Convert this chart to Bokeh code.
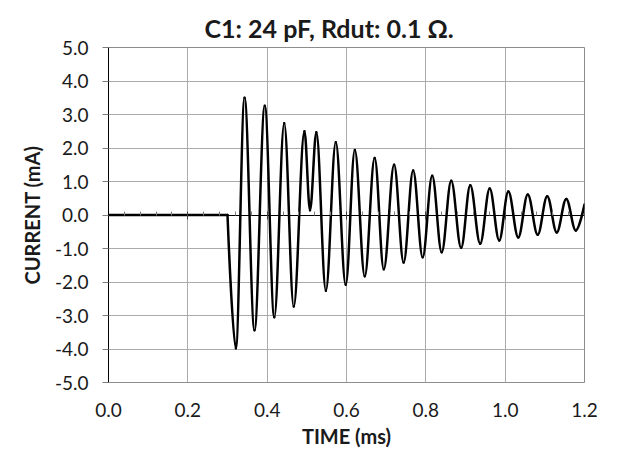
from bokeh.plotting import figure
from bokeh.models import (Range1d, LinearAxis, FixedTicker, ColumnDataSource, Title)
from bokeh.embed import file_html
from bokeh.resources import INLINE

# ---- data ----
title_text = "C1: 24 pF, Rdut: 0.1 \u03a9."
x_label = "TIME (ms)"
y_label = "CURRENT (mA)"

x_ticks = [0.0, 0.2, 0.4, 0.6, 0.8, 1.0, 1.2]
x_tick_labels = ["0.0", "0.2", "0.4", "0.6", "0.8", "1.0", "1.2"]
x_minor = [0.04, 0.08, 0.12, 0.16, 0.24, 0.28, 0.32, 0.36, 0.44, 0.48, 0.52, 0.56,
           0.64, 0.68, 0.72, 0.76, 0.84, 0.88, 0.92, 0.96, 1.04, 1.08, 1.12, 1.16]
y_ticks = [-5.0, -4.0, -3.0, -2.0, -1.0, 0.0, 1.0, 2.0, 3.0, 4.0, 5.0]
y_tick_labels = ["-5.0", "-4.0", "-3.0", "-2.0", "-1.0", "0.0", "1.0", "2.0", "3.0", "4.0", "5.0"]

# baseline before the event (ms, mA)
t_flat = [0.0, 0.30]
i_flat = [0.0, 0.0]

# turning points of the ringing (ms, mA), plus start and end of the trace
t_turn = [0.30, 0.321, 0.343, 0.368, 0.394, 0.418, 0.443, 0.467, 0.494, 0.508,
          0.524, 0.548, 0.573, 0.598, 0.621, 0.646, 0.671, 0.694, 0.720, 0.744,
          0.768, 0.792, 0.816, 0.840, 0.864, 0.889, 0.912, 0.937, 0.961, 0.985,
          1.008, 1.033, 1.057, 1.082, 1.106, 1.130, 1.154, 1.178, 1.200]
i_turn = [0.0, -3.98, 3.50, -3.44, 3.26, -3.05, 2.74, -2.73, 2.50, 0.14,
          2.47, -2.26, 2.17, -2.08, 1.94, -1.83, 1.70, -1.62, 1.50, -1.42,
          1.33, -1.26, 1.17, -1.11, 1.02, -0.98, 0.89, -0.86, 0.79, -0.76,
          0.70, -0.67, 0.61, -0.59, 0.56, -0.52, 0.48, -0.46, 0.31]

FONT = "Lato"
GRID = "#ababab"
TXT = "#1a1a1a"

p = figure(width=632, height=461, output_backend="svg", toolbar_location=None,
           x_range=Range1d(x_ticks[0], x_ticks[-1]), y_range=Range1d(y_ticks[0], y_ticks[-1]),
           x_axis_location=None, y_axis_location=None,
           min_border_left=108, min_border_right=48, min_border_top=47, min_border_bottom=79)
p.background_fill_color = "white"
p.border_fill_color = "white"
p.outline_line_color = "#8c8c8c"
p.outline_line_width = 1

p.title = Title(text=title_text, align="left", offset=96,
                text_font=FONT, text_font_size="25px", text_font_style="bold",
                text_color=TXT)

# left axis
yax = LinearAxis(ticker=FixedTicker(ticks=y_ticks),
                 major_label_overrides=dict(zip(y_ticks, y_tick_labels)),
                 axis_label=y_label)
yax.axis_line_color = "black"
yax.major_tick_out = 6
yax.major_tick_in = 0
yax.major_tick_line_color = "#7f7f7f"
yax.minor_tick_line_color = None
yax.major_label_standoff = 14
yax.major_label_text_font = FONT
yax.major_label_text_font_size = "19px"
yax.major_label_text_color = TXT
yax.axis_label_text_font = FONT
yax.axis_label_text_font_size = "20px"
yax.axis_label_text_font_style = "bold"
yax.axis_label_text_color = TXT
yax.axis_label_standoff = 8
p.add_layout(yax, "left")

# bottom labels (no line)
xax = LinearAxis(ticker=FixedTicker(ticks=x_ticks),
                 major_label_overrides=dict(zip(x_ticks, x_tick_labels)),
                 axis_label=x_label)
xax.axis_line_color = None
xax.major_tick_line_color = None
xax.minor_tick_line_color = None
xax.major_tick_out = 0
xax.major_tick_in = 0
xax.major_label_standoff = 20
xax.major_label_text_font = FONT
xax.major_label_text_font_size = "19px"
xax.major_label_text_color = TXT
xax.axis_label_text_font = FONT
xax.axis_label_text_font_size = "20px"
xax.axis_label_text_font_style = "bold"
xax.axis_label_text_color = TXT
xax.axis_label_standoff = 4
p.add_layout(xax, "below")

# horizontal axis line crossing at zero
zax = LinearAxis(ticker=FixedTicker(ticks=x_ticks, minor_ticks=x_minor),
                 fixed_location=0)
zax.axis_line_color = "black"
zax.axis_line_width = 1
zax.major_tick_in = 4
zax.major_tick_out = 4
zax.major_tick_line_color = "#404040"
zax.minor_tick_in = 4
zax.minor_tick_out = 0
zax.minor_tick_line_color = "#7f7f7f"
zax.major_label_text_font_size = "0px"
zax.major_label_text_alpha = 0
p.add_layout(zax, "below")

p.xgrid.ticker = FixedTicker(ticks=x_ticks)
p.ygrid.ticker = FixedTicker(ticks=y_ticks)
for g in (p.xgrid, p.ygrid):
    g.grid_line_color = GRID
    g.grid_line_width = 1

# trace
p.line(t_flat, i_flat, line_color="black", line_width=2.5, line_cap="round")

k = 0.36
x0, y0, x1, y1, cx0, cy0, cx1, cy1 = [], [], [], [], [], [], [], []
n = len(t_turn)
for j in range(n - 1):
    a, b = t_turn[j], t_turn[j + 1]
    ya, yb = i_turn[j], i_turn[j + 1]
    d = b - a
    x0.append(a); y0.append(ya); x1.append(b); y1.append(yb)
    # flat tangent at turning points, none at trace start/end
    if j == 0:
        cx0.append(a); cy0.append(ya)
    else:
        cx0.append(a + k * d); cy0.append(ya)
    if j + 1 == n - 1:
        cx1.append(b); cy1.append(yb)
    else:
        cx1.append(b - k * d); cy1.append(yb)

src = ColumnDataSource(dict(x0=x0, y0=y0, x1=x1, y1=y1, cx0=cx0, cy0=cy0, cx1=cx1, cy1=cy1))
p.bezier(x0="x0", y0="y0", x1="x1", y1="y1", cx0="cx0", cy0="cy0", cx1="cx1", cy1="cy1",
         source=src, line_color="black", line_width=2.5, line_cap="round")

open("out.html", "w").write(file_html(p, INLINE))
